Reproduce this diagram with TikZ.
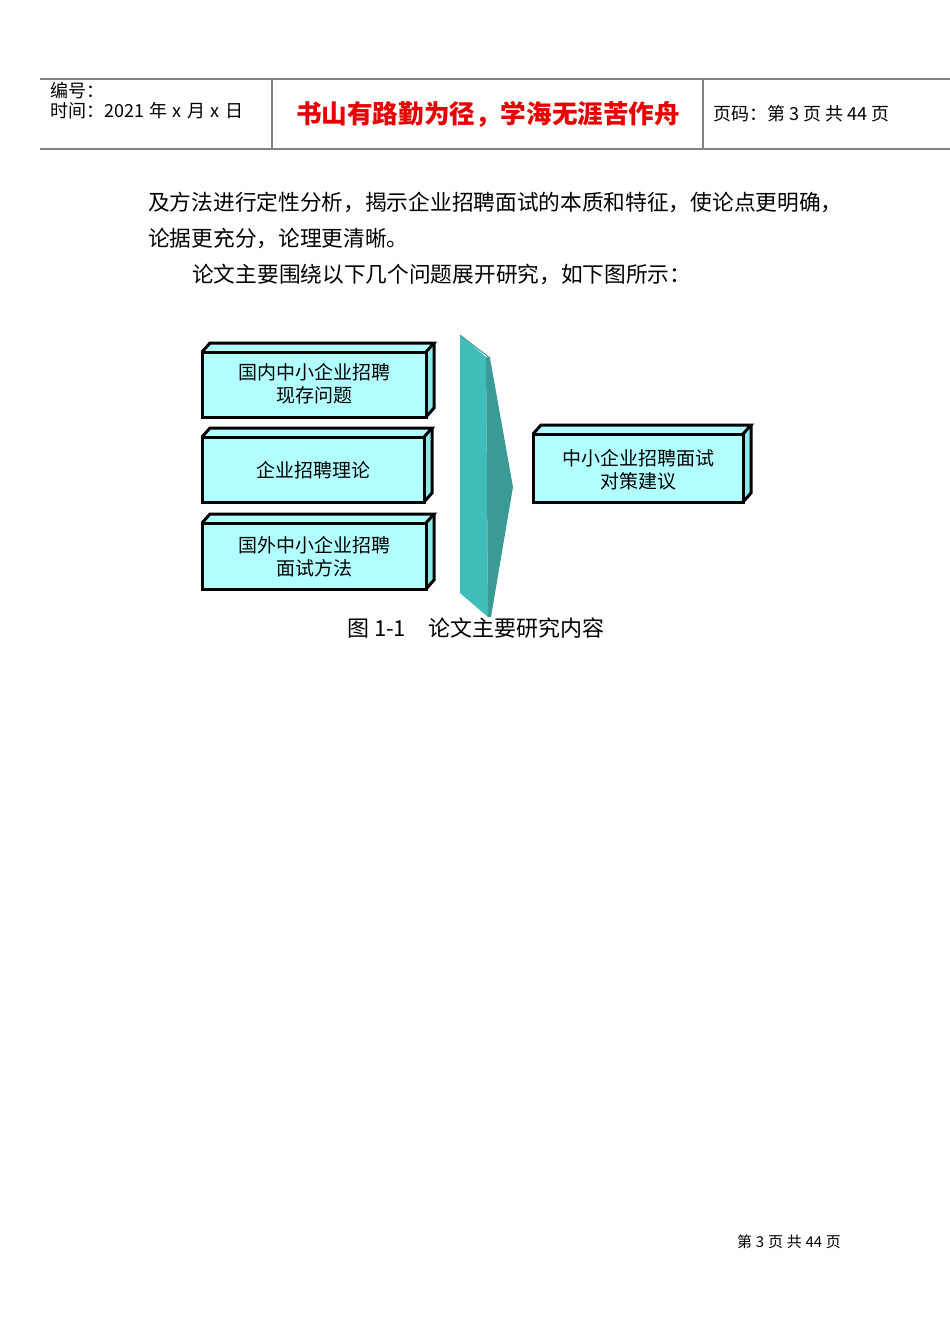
\documentclass[tikz,border=0pt]{standalone}
\usepackage{fontspec}
\setmainfont{Noto Sans CJK SC}
\usepackage{tikz}
\usetikzlibrary{positioning}

\definecolor{boxcyan}{RGB}{178,255,255}
\definecolor{sidecyan}{RGB}{140,236,236}
\definecolor{tealA}{RGB}{64,189,184}
\definecolor{tealB}{RGB}{58,154,150}
\definecolor{rulegray}{RGB}{128,128,128}
\definecolor{titlered}{RGB}{230,0,0}

\tikzset{
    boxline/.style={black,line width=3pt,line join=miter},
    boxtext/.style={align=center,font=\fontsize{19}{23}\selectfont},
    bodytext/.style={anchor=west,inner sep=0pt,font=\fontsize{21.7}{21.7}\selectfont},
    headtext/.style={anchor=west,inner sep=0pt,font=\fontsize{18}{18}\selectfont}
}

\begin{document}
\begin{tikzpicture}[x=1pt,y=-1pt]
    \useasboundingbox (0,0) rectangle (950,1342);
    % header
    \draw[rulegray,line width=1.5pt] (40,79) -- (950,79);
    \draw[rulegray,line width=1.5pt] (40,149) -- (950,149);
    \draw[rulegray,line width=1.5pt] (272,79) -- (272,149);
    \draw[rulegray,line width=1.5pt] (703,79) -- (703,149);
    \node [headtext] (num) at (50,91) {编号：};
    \node [headtext] (date) at (50,111) {时间：2021\hspace{0.3em}年\hspace{0.3em}x\hspace{0.3em}月\hspace{0.3em}x\hspace{0.3em}日};
    \node [inner sep=0pt,text=titlered,font=\fontsize{25.6}{25.6}\selectfont\bfseries] (motto) at (488,114) {书山有路勤为径，学海无涯苦作舟};
    \node [headtext] (page) at (713,114) {页码：第 3 页 共 44 页};
    % text
    \node [bodytext] (line1) at (148,202) {及方法进行定性分析，揭示企业招聘面试的本质和特征，使论点更明确，};
    \node [bodytext] (line2) at (148,238) {论据更充分，论理更清晰。};
    \node [bodytext] (line3) at (192,274) {论文主要围绕以下几个问题展开研究，如下图所示：};
    % the big arrow
    \fill[tealA] (460,335) -- (486,357) -- (488,617) -- (460,593) -- cycle;
    \fill[tealB] (486,357) -- (490,358) -- (513,487) -- (491,617) -- (488,617) -- cycle;
    \draw[tealB,line width=1pt] (460,335) -- (490,358);
    % boxes
    \foreach \x/\y/\w/\h in {202/352/224/65, 202/437/222/65, 202/523/224/66, 533/434/210/68}{
        \begin{scope}[shift={(\x,\y)}]
            \fill[boxcyan] (0,0) rectangle (\w,\h);
            \fill[boxcyan] (0,0) -- (8,-9) -- (\w+8,-9) -- (\w,0) -- cycle;
            \fill[sidecyan] (\w,0) -- (\w+8,-9) -- (\w+8,\h-9) -- (\w,\h) -- cycle;
            \draw[boxline] (0,0) rectangle (\w,\h);
            \draw[boxline] (0,0) -- (8,-9) -- (\w+8,-9) -- (\w,0);
            \draw[boxline] (\w+8,-9) -- (\w+8,\h-9) -- (\w,\h);
        \end{scope}
    }
    \node [boxtext] (home) at (314,384) {国内中小企业招聘\\现存问题};
    \node [boxtext] (theory) at (313,470) {企业招聘理论};
    \node [boxtext] (abroad) at (314,557) {国外中小企业招聘\\面试方法};
    \node [boxtext] (advice) at (638,470) {中小企业招聘面试\\对策建议};
    % caption and footer
    \node [bodytext,font=\fontsize{22}{22}\selectfont] (caption) at (347,628) {图 1-1\hspace{1em}论文主要研究内容};
    \node [anchor=west,inner sep=0pt,font=\fontsize{15}{15}\selectfont] (footer) at (737,1242) {第\hspace{0.25em}3\hspace{0.25em}页\hspace{0.25em}共\hspace{0.25em}44\hspace{0.25em}页};
\end{tikzpicture}
\end{document}
